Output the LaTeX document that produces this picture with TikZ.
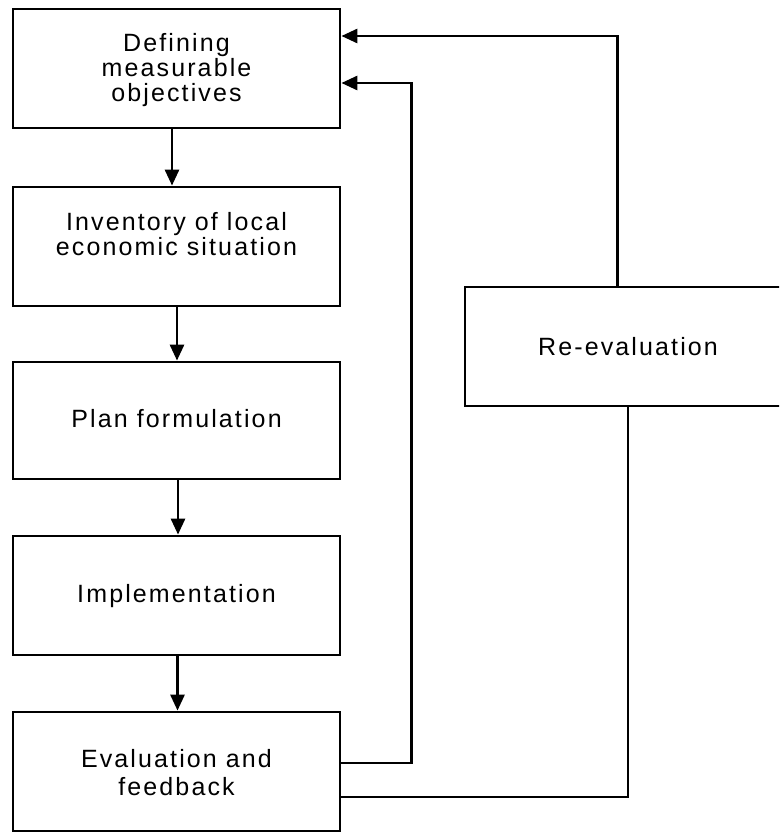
\documentclass[tikz,border=0pt]{standalone}
\usepackage{fontspec}
\setmainfont{Liberation Sans}[LetterSpace=8.5]
\usetikzlibrary{arrows.meta}
\begin{document}
\begin{tikzpicture}[x=1pt,y=-1pt,
  stagebox/.style={draw, line width=2.8pt, minimum width=327pt, minimum height=119pt, inner sep=0pt},
  stagetext/.style={align=center, inner sep=0pt, font=\fontsize{25}{25}\selectfont},
  flow/.style={line width=2.8pt, -{Triangle[length=16pt,width=14pt]}},
  link/.style={line width=2.8pt}]
\useasboundingbox (0,0) rectangle (779,832);
\clip (0,0) rectangle (779,832);

% main sequence of stages
\node[stagebox] (obj) at (176.5,68.5) {};
\node[stagebox] (inv) at (176.5,246.5) {};
\node[stagebox, minimum height=117pt] (plan) at (176.5,420.5) {};
\node[stagebox] (impl) at (176.5,595.5) {};
\node[stagebox] (eva) at (176.5,771.5) {};

\node[stagetext] (objt) at (176.5,70) {Defining\\measurable\\objectives};
\node[stagetext] (invt) at (176.5,234) {Inventory of local\\economic situation};
\node[stagetext] (plant) at (176.5,418.5) {Plan formulation};
\node[stagetext] (implt) at (176.5,596) {Implementation};
\node[stagetext] (evat) at (176.5,773) {Evaluation and\\[3pt]feedback};

% re-evaluation stage, running off the right edge
\node[stagebox, minimum width=326pt] (re) at (628,346.5) {};
\node[stagetext] (ret) at (628,346.5) {Re-evaluation};

% downward flow
\draw[flow] (obj.south -| 172,0) -- (inv.north -| 172,0);
\draw[flow] (inv.south -| 177,0) -- (plan.north -| 177,0);
\draw[flow] (plan.south -| 178,0) -- (impl.north -| 178,0);
\draw[flow] (impl.south -| 177.5,0) -- (eva.north -| 177.5,0);

% feedback loops
\coordinate (fb) at (411.5,83);
\draw[flow] (eva.east |- 0,763) -| (fb) -- (obj.east |- fb);
\draw[link] (eva.east |- 0,797) -| (re.south);
\coordinate (rt) at (617.5,36);
\draw[flow] (re.north -| rt) -- (rt) -- (obj.east |- rt);
\end{tikzpicture}
\end{document}
